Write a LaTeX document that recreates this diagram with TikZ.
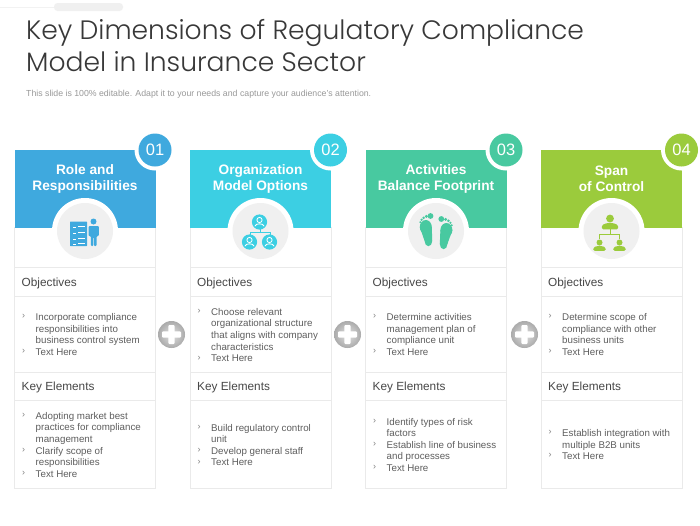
\documentclass[tikz,border=0pt]{standalone}
\usepackage{fontspec}
\setmainfont{Liberation Sans}
\newfontfamily\titlefont{Poppins}[UprightFont=* Light]
\definecolor{cblue}{HTML}{3FA9DE}
\definecolor{ccyan}{HTML}{3CCFE3}
\definecolor{cgreen}{HTML}{48C9A0}
\definecolor{clime}{HTML}{9BCB3C}
\definecolor{frame}{HTML}{EAEAEA}
\definecolor{disc}{HTML}{F0F0F0}
\definecolor{bodyc}{HTML}{5E5E5E}
\tikzset{
  x=1pt,y=-1pt,
  titletxt/.style={font=\titlefont\fontsize{26.6}{32.5}\selectfont,text=black!78,align=left,anchor=north west,inner sep=0pt},
  subtxt/.style={font=\fontsize{8.75}{10}\selectfont,text=black!40,anchor=west,inner sep=0pt},
  headtxt/.style={font=\bfseries\fontsize{13.7}{16.5}\selectfont,text=white,align=center,inner sep=0pt},
  numtxt/.style={font=\fontsize{16.5}{17}\selectfont,text=white,inner sep=0pt},
  secttxt/.style={font=\fontsize{11.8}{14}\selectfont,text=black!72,anchor=west,inner sep=0pt},
  itemtxt/.style={font=\fontsize{9.75}{11.7}\selectfont,text=bodyc,align=left,anchor=north west,inner sep=0pt},
  bultxt/.style={font=\fontsize{9}{10}\selectfont,text=black!50,anchor=west,inner sep=0pt},
  cardframe/.style={draw=frame,line width=0.9pt,fill=white},
  plusdisc/.style={circle,minimum size=27pt,inner sep=0pt,shading=radial,inner color=black!12,outer color=black!33},
}
% #1 name, #2 left x, #3 colour, #4 number, #5 heading
\newcommand{\cardbox}[5]{
  \draw[cardframe] (#2,227) rectangle (#2+141,488);
  \foreach \yy in {267,296.5,372,400.5}{\draw[frame,line width=0.9pt] (#2,\yy) -- (#2+141,\yy);}
  \fill[#3] (#2,149.5) rectangle (#2+141,227.5);
  \fill[white] (#2+70.5,231) circle[radius=33];
  \fill[disc] (#2+70.5,231) circle[radius=28];
  \fill[white] (#2+140.5,150) circle[radius=20.5];
  \node[circle,fill=#3,minimum size=33pt,inner sep=0pt] (#1num) at (#2+140.5,150) {};
  \node[numtxt] (#1numt) at (#2+140.5,150) {#4};
  \node[headtxt] (#1head) at (#2+70.5,179) {#5};
  \node[secttxt] (#1obj) at (#2+7,283) {Objectives};
  \node[secttxt] (#1key) at (#2+7,387) {Key Elements};
}
% #1 name, #2 left x of card, #3 centre y of first line, #4 text
\newcommand{\bul}[4]{
  \node[bultxt] (#1b) at (#2+7.5,#3) {›};
  \node[itemtxt] (#1t) at (#2+21,#3-3.2) {#4};
}
% person bust
\newcommand{\bust}[4]{% x,y head centre, head radius, colour
  \fill[#4] (#1,#2) circle[radius=#3];
  \fill[#4,rounded corners=1.5pt] (#1-2.1*#3,#2+2.8*#3) -- (#1-2.1*#3,#2+1.7*#3) -- (#1-0.8*#3,#2+1.15*#3) -- (#1+0.8*#3,#2+1.15*#3) -- (#1+2.1*#3,#2+1.7*#3) -- (#1+2.1*#3,#2+2.8*#3) -- cycle;
}
\newcommand{\ringperson}[3]{% x,y,colour
  \fill[#3] (#1,#2) circle[radius=7.6];
  \draw[white,line width=0.8pt] (#1,#2-2) circle[radius=2.6];
  \draw[white,line width=0.8pt] (#1-4.6,#2+4.2) .. controls (#1-4,#2+1) and (#1+4,#2+1) .. (#1+4.6,#2+4.2);
}
\newcommand{\foot}[9]{% ball x,y,rx,ry ; heel x,y,rx,ry ; colour
  \fill[#9] (#1,#2) ellipse[x radius=#3,y radius=#4];
  \fill[#9] (#5,#6) ellipse[x radius=#7,y radius=#8];
  \fill[#9] (#1-#3,#2) -- (#5-#7,#6) -- (#5+#7,#6) -- (#1+#3,#2) -- cycle;
}
\begin{document}
\begin{tikzpicture}
\useasboundingbox (0,0) rectangle (700,525);
\fill[white] (0,0) rectangle (700,525);
% faint top strip
\draw[black!5,line width=0.5pt] (0,7) -- (54,7);
\fill[black!6,rounded corners=3.5pt] (54,3) rectangle (123,11);
% title
\node[titletxt] (title) at (26,19) {Key Dimensions of Regulatory Compliance\\Model in Insurance Sector};
\node[subtxt] (subtitle) at (26,94) {This slide is 100\% editable. Adapt it to your needs and capture your audience's attention.};
% cards
\cardbox{a}{14.5}{cblue}{01}{Role and\\Responsibilities}
\cardbox{b}{190}{ccyan}{02}{Organization\\Model Options}
\cardbox{c}{365.5}{cgreen}{03}{Activities\\Balance Footprint}
\cardbox{d}{541}{clime}{04}{Span\\of Control}
% plus signs
\foreach \nm/\px in {p1/171.5,p2/347.5,p3/524.5}{
  \node[plusdisc] (\nm) at (\px,334.5) {};
  \fill[white,rounded corners=1pt] (\px-3.2,334.5-9.5) rectangle (\px+3.2,334.5+9.5);
  \fill[white,rounded corners=1pt] (\px-9.5,334.5-3.2) rectangle (\px+9.5,334.5+3.2);
}
% card 1 text
\bul{ao1}{14.5}{316.5}{Incorporate compliance\\responsibilities into\\business control system}
\bul{ao2}{14.5}{351.5}{Text Here}
\bul{ak1}{14.5}{415}{Adopting market best\\practices for compliance\\management}
\bul{ak2}{14.5}{450}{Clarify scope of\\responsibilities}
\bul{ak3}{14.5}{473.5}{Text Here}
% card 2 text
\bul{bo1}{190}{311}{Choose relevant\\organizational structure\\that aligns with company\\characteristics}
\bul{bo2}{190}{358}{Text Here}
\bul{bk1}{190}{427}{Build regulatory control\\unit}
\bul{bk2}{190}{450}{Develop general staff}
\bul{bk3}{190}{462}{Text Here}
% card 3 text
\bul{co1}{365.5}{316.5}{Determine activities\\management plan of\\compliance unit}
\bul{co2}{365.5}{351.5}{Text Here}
\bul{ck1}{365.5}{421}{Identify types of risk\\factors}
\bul{ck2}{365.5}{444}{Establish line of business\\and processes}
\bul{ck3}{365.5}{467.5}{Text Here}
% card 4 text
\bul{do1}{541}{316.5}{Determine scope of\\compliance with other\\business units}
\bul{do2}{541}{351.5}{Text Here}
\bul{dk1}{541}{432.5}{Establish integration with\\multiple B2B units}
\bul{dk2}{541}{455.5}{Text Here}
% icon 1: checklist and person
\fill[cblue,rounded corners=0.5pt] (70,221.5) rectangle (87,246);
\foreach \yy in {227,233,239,244}{
  \draw[white,line width=0.8pt] (78,\yy-1) -- (85,\yy-1);
  \draw[white,line width=0.8pt] (73,\yy) -- (76,\yy);
}
\fill[cblue] (93.5,221.5) circle[radius=3];
\fill[cblue,rounded corners=1pt] (88.5,226) -- (98.8,226) -- (98.8,236) -- (96.5,236) -- (96.5,246) -- (94,246) -- (94,237) -- (93.3,237) -- (93.3,246) -- (90.8,246) -- (90.8,236) -- (88.5,236) -- cycle;
% icon 2: three people
\draw[ccyan,line width=0.5pt] (260,226) -- (260,232) (250,238) -- (250,232) -- (270,232) -- (270,238);
\ringperson{259.5}{222}{ccyan}
\ringperson{249.5}{242}{ccyan}
\ringperson{269.5}{242}{ccyan}
% icon 3: feet
\foot{425.8}{227}{6}{7}{428.4}{241}{3.8}{5.2}{cgreen}
\foreach \tx/\ty/\tr in {430.5/216/2.9,426.3/216.4/1.6,423.6/217.8/1.4,421.6/219.8/1.2,420.3/222.2/1.1}{\fill[cgreen] (\tx,\ty) circle[radius=\tr];}
\foot{446.4}{230}{6}{7}{443.6}{244}{3.8}{5.2}{cgreen}
\foreach \tx/\ty/\tr in {441.3/219/2.9,445.6/219.4/1.6,448.4/220.8/1.4,450.4/222.8/1.2,451.7/225.2/1.1}{\fill[cgreen] (\tx,\ty) circle[radius=\tr];}
% icon 4: hierarchy
\bust{610}{218.5}{3.9}{clime}
\draw[clime,line width=0.7pt] (610,229) -- (610,234.5) (599.5,239) -- (599.5,234.5) -- (619.5,234.5) -- (619.5,239);
\bust{599.5}{242.5}{3}{clime}
\bust{619.5}{242.5}{3}{clime}
\end{tikzpicture}
\end{document}
